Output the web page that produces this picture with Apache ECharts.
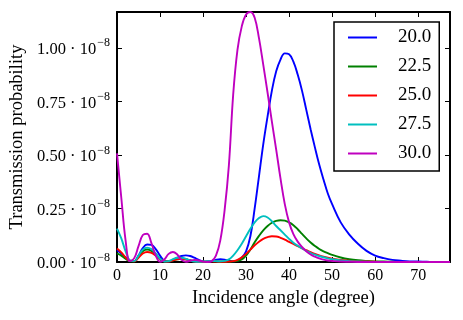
<!DOCTYPE html>
<html>
<head>
<meta charset="utf-8">
<script src="https://cdn.jsdelivr.net/npm/echarts@6/dist/echarts.min.js"></script>
<style>
  html, body { margin: 0; padding: 0; background: #fff; }
  #chart { width: 463px; height: 320px; }
</style>
</head>
<body>
<div id="chart"></div>
<script>
// incidence angle (degree)
const angles = [
  0, 1, 2, 3, 4, 5, 6, 7, 8, 9, 10, 11, 12, 13, 14, 15, 16, 17, 18, 19,
  20, 21, 22, 23, 24, 25, 26, 27, 28, 29, 30, 31, 32, 33, 34, 35, 36, 37, 38, 39,
  40, 41, 42, 43, 44, 45, 46, 47, 48, 49, 50,
  52, 54, 56, 58, 60, 62, 64, 66, 68, 70, 72, 74, 76, 77.4
];

// transmission probability, in units of 1e-8
const prob200 = [
  0.055, 0.04, 0.02, 0.004, 0.004, 0.03, 0.065, 0.082, 0.08, 0.06, 0.03, 0.006, 0.002, 0.01, 0.02, 0.028, 0.031, 0.028, 0.02, 0.01,
  0.003, 0.001, 0.004, 0.01, 0.013, 0.011, 0.006, 0.003, 0.006, 0.02, 0.05, 0.12, 0.25, 0.40, 0.55, 0.68, 0.80, 0.89, 0.945, 0.974,
  0.97, 0.935, 0.875, 0.80, 0.71, 0.62, 0.535, 0.455, 0.385, 0.32, 0.27,
  0.185, 0.128, 0.085, 0.052, 0.03, 0.018, 0.01, 0.006, 0.003, 0.002, 0.001, 0, 0, 0
];
const prob225 = [
  0.04, 0.03, 0.015, 0.003, 0.003, 0.025, 0.05, 0.058, 0.052, 0.035, 0.015, 0.003, 0.002, 0.008, 0.013, 0.015, 0.013, 0.008, 0.003, 0.001,
  0.001, 0.003, 0.004, 0.003, 0.001, 0.001, 0.002, 0.003, 0.005, 0.012, 0.03, 0.058, 0.092, 0.122, 0.148, 0.168, 0.183, 0.192, 0.195, 0.193,
  0.185, 0.172, 0.153, 0.131, 0.11, 0.091, 0.075, 0.061, 0.05, 0.041, 0.033,
  0.021, 0.013, 0.008, 0.005, 0.003, 0.002, 0.001, 0, 0, 0, 0, 0, 0, 0
];
const prob250 = [
  0.063, 0.045, 0.022, 0.005, 0.003, 0.02, 0.04, 0.047, 0.043, 0.03, 0.013, 0.003, 0.002, 0.008, 0.013, 0.015, 0.012, 0.007, 0.002, 0.001,
  0.001, 0.003, 0.003, 0.002, 0.001, 0.001, 0.002, 0.004, 0.01, 0.022, 0.038, 0.058, 0.078, 0.095, 0.108, 0.116, 0.12, 0.119, 0.113, 0.104,
  0.094, 0.084, 0.074, 0.064, 0.055, 0.046, 0.038, 0.031, 0.025, 0.02, 0.016,
  0.01, 0.006, 0.003, 0.002, 0.001, 0, 0, 0, 0, 0, 0, 0, 0, 0
];
const prob275 = [
  0.156, 0.11, 0.05, 0.008, 0.004, 0.03, 0.058, 0.067, 0.06, 0.04, 0.015, 0.002, 0.004, 0.013, 0.02, 0.02, 0.015, 0.007, 0.002, 0.001,
  0.002, 0.004, 0.005, 0.004, 0.003, 0.005, 0.012, 0.03, 0.055, 0.085, 0.12, 0.155, 0.185, 0.205, 0.214, 0.208, 0.19, 0.168, 0.148, 0.128,
  0.108, 0.09, 0.076, 0.064, 0.052, 0.042, 0.034, 0.028, 0.022, 0.017, 0.013,
  0.007, 0.004, 0.002, 0.001, 0, 0, 0, 0, 0, 0, 0, 0, 0, 0
];
const prob300 = [
  0.507, 0.30, 0.10, 0.004, 0.018, 0.074, 0.126, 0.132, 0.088, 0.03, 0.001, 0.012, 0.038, 0.047, 0.035, 0.01, 0.001, 0.006, 0.01, 0.007,
  0.002, 0.0, 0.004, 0.03, 0.10, 0.24, 0.45, 0.78, 0.99, 1.10, 1.155, 1.167, 1.14, 1.045, 0.92, 0.79, 0.655, 0.525, 0.39, 0.27,
  0.185, 0.13, 0.095, 0.07, 0.05, 0.035, 0.025, 0.017, 0.011, 0.007, 0.005,
  0.002, 0.001, 0, 0, 0, 0, 0, 0, 0, 0, 0, 0, 0, 0
];

const seriesNames = ['20.0', '22.5', '25.0', '27.5', '30.0'];
const seriesValues = [prob200, prob225, prob250, prob275, prob300];
const colors = ['#0000ff', '#008000', '#ff0000', '#00bfbf', '#bf00bf'];

const xTicks = [0, 10, 20, 30, 40, 50, 60, 70];
const yTicks = [0, 0.25, 0.5, 0.75, 1.0];

const font = 'Liberation Serif';
const xMax = 77.4;
const yMax = 1.167;

const frameLine = { show: true, onZero: false, lineStyle: { color: '#000', width: 2 } };

function tickStyle(values) {
  return { show: true, inside: true, length: 5, customValues: values, lineStyle: { color: '#000', width: 1 } };
}

const chart = echarts.init(document.getElementById('chart'));

const option = {
  animation: false,
  backgroundColor: '#fff',
  grid: { left: 117, right: 13, top: 12, bottom: 58, containLabel: false, outerBoundsMode: 'none' },
  legend: {
    orient: 'vertical',
    left: 334,
    top: 22,
    padding: [6, 8, 8, 14],
    backgroundColor: '#fff',
    borderColor: '#000',
    borderWidth: 1.5,
    borderRadius: 0,
    icon: 'rect',
    itemWidth: 29,
    itemHeight: 2,
    itemGap: 10,
    textStyle: { fontFamily: font, fontSize: 19, color: '#000', lineHeight: 19, padding: [0, 0, 0, 16] },
    data: seriesNames
  },
  xAxis: [
    {
      type: 'value', min: 0, max: xMax, position: 'bottom',
      name: 'Incidence angle (degree)', nameLocation: 'middle', nameGap: 27,
      nameTextStyle: { fontFamily: font, fontSize: 18.5, color: '#000' },
      axisLine: frameLine,
      axisTick: tickStyle(xTicks),
      axisLabel: { customValues: xTicks, margin: 6, fontFamily: font, fontSize: 16, color: '#000' },
      splitLine: { show: false }
    },
    {
      type: 'value', min: 0, max: xMax, position: 'top',
      axisLine: frameLine,
      axisTick: tickStyle(xTicks),
      axisLabel: { show: false },
      splitLine: { show: false }
    }
  ],
  yAxis: [
    {
      type: 'value', min: 0, max: yMax, position: 'left',
      name: 'Transmission probability', nameLocation: 'middle', nameGap: 89,
      nameTextStyle: { fontFamily: font, fontSize: 18.5, color: '#000' },
      axisLine: frameLine,
      axisTick: tickStyle(yTicks),
      axisLabel: {
        customValues: yTicks, margin: 7, color: '#000',
        formatter: v => '{n|' + v.toFixed(2) + ' · 10}{e|−8}',
        rich: {
          n: { fontFamily: font, fontSize: 16.5, color: '#000', lineHeight: 21, verticalAlign: 'bottom' },
          e: { fontFamily: font, fontSize: 12, color: '#000', lineHeight: 12, verticalAlign: 'top', padding: [0, 0, 0, 1] }
        }
      },
      splitLine: { show: false }
    },
    {
      type: 'value', min: 0, max: yMax, position: 'right',
      axisLine: frameLine,
      axisTick: tickStyle(yTicks),
      axisLabel: { show: false },
      splitLine: { show: false }
    }
  ],
  series: seriesNames.map((name, i) => ({
    name: name,
    type: 'line',
    xAxisIndex: 0,
    yAxisIndex: 0,
    data: angles.map((a, j) => [a, seriesValues[i][j]]),
    showSymbol: false,
    symbol: 'none',
    smooth: 0.4,
    clip: true,
    color: colors[i],
    lineStyle: { color: colors[i], width: 1.9 }
  }))
};

chart.setOption(option);
</script>
</body>
</html>
